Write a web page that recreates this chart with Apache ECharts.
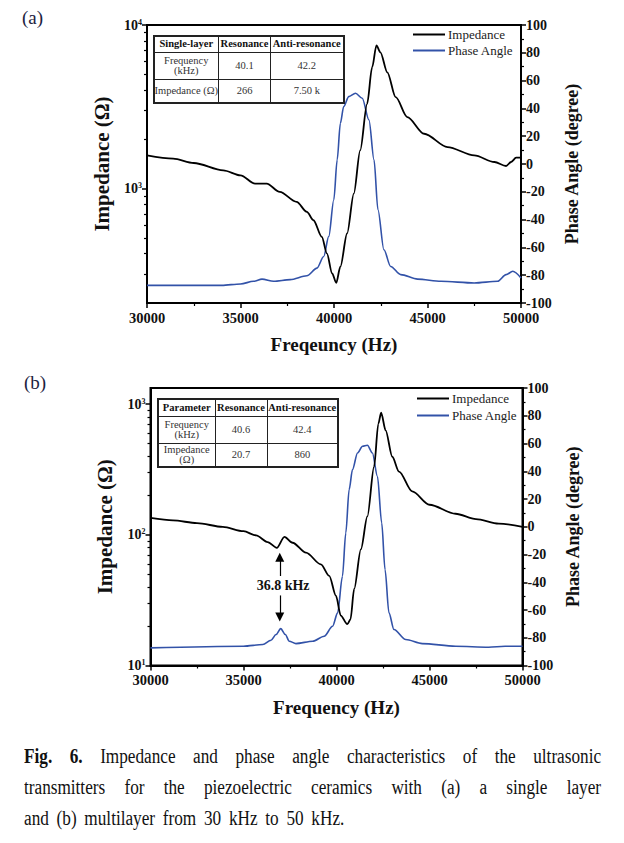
<!DOCTYPE html>
<html><head><meta charset="utf-8">
<script src="https://cdn.jsdelivr.net/npm/echarts@6/dist/echarts.min.js"></script>
<style>
html,body{margin:0;padding:0;background:#fff;}
#chart{position:absolute;left:0;top:0;width:624px;height:843px;}
.lbl{position:absolute;font-family:'Liberation Serif',serif;font-size:19px;color:#1d2340;line-height:20px;}
table.t{position:absolute;border-collapse:collapse;font-family:'Liberation Serif',serif;font-size:10.5px;color:#333;border:2px solid #222;table-layout:fixed;}
table.t td,table.t th{border:1.5px solid #222;text-align:center;padding:0;line-height:10px;}
table.t th{font-weight:bold;color:#111;}
#cap{position:absolute;left:24px;top:741px;width:671px;transform:scaleX(0.86);transform-origin:0 0;font-family:'Liberation Serif',serif;font-size:20px;line-height:31px;color:#111;}
#cap .j{text-align:justify;text-align-last:justify;}
#cap .l3{word-spacing:4px;}
</style></head><body>
<div id="chart"></div>
<div class="lbl" style="left:22px;top:8px;">(a)</div>
<div class="lbl" style="left:24px;top:373px;">(b)</div>
<table class="t" style="left:152.5px;top:34.5px;width:190px;height:67px;">
<colgroup><col style="width:65px"><col style="width:52px"><col style="width:73px"></colgroup>
<tr style="height:17px"><th>Single-layer</th><th>Resonance</th><th>Anti-resonance</th></tr>
<tr style="height:27px"><td>Frequency<br>(kHz)</td><td>40.1</td><td>42.2</td></tr>
<tr style="height:23px"><td>Impedance (&Omega;)</td><td>266</td><td>7.50 k</td></tr>
</table>
<table class="t" style="left:157px;top:398px;width:180px;height:68px;">
<colgroup><col style="width:57px"><col style="width:52px"><col style="width:71px"></colgroup>
<tr style="height:17px"><th>Parameter</th><th>Resonance</th><th>Anti-resonance</th></tr>
<tr style="height:27px"><td>Frequency<br>(kHz)</td><td>40.6</td><td>42.4</td></tr>
<tr style="height:24px"><td>Impedance<br>(&Omega;)</td><td>20.7</td><td>860</td></tr>
</table>
<div id="cap">
<div class="j"><b>Fig. 6.</b> Impedance and phase angle characteristics of the ultrasonic</div>
<div class="j">transmitters for the piezoelectric ceramics with (a) a single layer</div>
<div class="l3">and (b) multilayer from 30 kHz to 50 kHz.</div>
</div>
<script>
// ---- data (a) single layer ----
const freqImpA = [30000, 31400, 32500, 34080, 35000, 35780, 36400, 37100, 38000, 38550, 38900, 39350, 39620, 39900, 40120, 40340, 40700, 41060, 41400, 41770, 42040, 42270, 42480, 42850, 43300, 43920, 44820, 46070, 47500, 48580, 49200, 49470, 49740, 50000];
const impA = [1596, 1524, 1434, 1293, 1206, 1072, 1072, 955, 830, 721, 641, 507, 402, 303, 266, 333, 532, 933, 1714, 3296, 5520, 7500, 6810, 5140, 3620, 2735, 2165, 1795, 1596, 1455, 1375, 1455, 1546, 1546];
const freqPhA = [30000, 34000, 35000, 35700, 36150, 36770, 37660, 38550, 39090, 39450, 39720, 39990, 40170, 40340, 40520, 40790, 41150, 41510, 41870, 42140, 42350, 42670, 43030, 43570, 44470, 45720, 47500, 48750, 49200, 49560, 50000];
const phaseA = [-87.3, -87.3, -86.3, -84.4, -82.8, -84.4, -83.2, -80.4, -74.9, -66.5, -52.1, -25.7, 3.0, 29.3, 41.3, 48.5, 50.9, 47.3, 31.7, 3.0, -32.9, -61.7, -73.7, -79.6, -82.8, -84.4, -85.6, -84.4, -79.6, -77.2, -82.0];
// ---- data (b) multilayer ----
const freqImpB = [30000, 31210, 32500, 33890, 35000, 35680, 36300, 36790, 37200, 37640, 38360, 39160, 39610, 39970, 40230, 40580, 40750, 40950, 41310, 41660, 42020, 42250, 42400, 42640, 43000, 43360, 44070, 45000, 46400, 47500, 48720, 50000];
const impB = [134.6, 129, 123, 115, 106.6, 98.9, 88, 79.6, 96.6, 87, 73, 59.5, 48.6, 34.2, 24.1, 20.7, 22.5, 38.5, 77.4, 138.6, 332, 710, 860, 631, 396, 305, 215, 170, 145, 132, 122, 115];
const freqPhB = [30000, 35000, 36040, 36480, 36750, 37000, 37250, 37460, 37820, 38720, 39340, 39790, 40060, 40320, 40500, 40680, 40860, 41130, 41400, 41660, 41930, 42200, 42430, 42610, 42820, 43090, 43720, 44610, 46400, 48180, 49070, 50000];
const phaseB = [-87.3, -86.1, -84.9, -81.8, -77.7, -73.4, -77.7, -82.5, -84.2, -82.5, -78.9, -71.7, -62.1, -35.7, -4.4, 26.8, 41.2, 53.2, 58.0, 58.7, 53.2, 36.4, 2.8, -30.9, -62.1, -74.1, -81.3, -84.2, -86.1, -86.8, -86.1, -86.1];
// ---- tick values ----
const impMajorA = [1000, 10000];
const impMinorA = [300, 400, 500, 600, 700, 800, 900, 2000, 3000, 4000, 5000, 6000, 7000, 8000, 9000];
const impMajorB = [10, 100, 1000];
const impMinorB = [20, 30, 40, 50, 60, 70, 80, 90, 200, 300, 400, 500, 600, 700, 800, 900];
const seriesNames = ['Impedance', 'Phase Angle'];
const annotFreq = 36950, annotText = '36.8 kHz';

const FONT = "'Liberation Serif','Times New Roman',serif";
const BLUE = '#3252a8';
const pairs = (xs, ys) => xs.map((x, i) => [x, ys[i]]);

function xAx(grid, name, gap) {
  return {
    gridIndex: grid, type: 'value', min: 30000, max: 50000, interval: 5000,
    name: name, nameLocation: 'middle', nameGap: gap,
    nameTextStyle: {fontFamily: FONT, fontWeight: 'bold', fontSize: 19, color: '#111'},
    axisLine: {onZero: false, lineStyle: {color: '#000', width: 2}},
    axisTick: {length: 5, lineStyle: {color: '#000', width: 1.5}},
    minorTick: {show: true, splitNumber: 2, length: 3, lineStyle: {color: '#000', width: 1.2}},
    axisLabel: {fontFamily: FONT, fontWeight: 'bold', fontSize: 14.5, color: '#111', margin: 7, formatter: v => String(v)},
    splitLine: {show: false}, minorSplitLine: {show: false}
  };
}
function logMajor(grid, min, max, majors) {
  return {
    gridIndex: grid, type: 'log', min: min, max: max, position: 'left',
    name: 'Impedance (\u03A9)', nameLocation: 'middle', nameGap: 35,
    nameTextStyle: {fontFamily: FONT, fontWeight: 'bold', fontSize: 21, color: '#111'},
    axisLine: {show: true, onZero: false, lineStyle: {color: '#000', width: 2}},
    axisTick: {show: true, length: 5, customValues: majors, lineStyle: {color: '#000', width: 1.5}},
    axisLabel: {
      customValues: majors, margin: 5,
      formatter: v => '{b|10}{s|' + Math.round(Math.log10(v)) + '}',
      rich: {
        b: {fontFamily: FONT, fontWeight: 'bold', fontSize: 14, color: '#111'},
        s: {fontFamily: FONT, fontWeight: 'bold', fontSize: 8, color: '#111', verticalAlign: 'top'}
      }
    },
    splitLine: {show: false}
  };
}
function logMinor(grid, min, max, minors) {
  return {
    gridIndex: grid, type: 'log', min: min, max: max, position: 'left',
    axisLine: {show: false, onZero: false},
    axisTick: {show: true, length: 3, customValues: minors, lineStyle: {color: '#000', width: 1.2}},
    axisLabel: {show: false}, splitLine: {show: false}
  };
}
function phaseAx(grid, gap) {
  return {
    gridIndex: grid, type: 'value', min: -100, max: 100, interval: 20, position: 'right',
    name: 'Phase Angle (degree)', nameLocation: 'middle', nameGap: gap,
    nameTextStyle: {fontFamily: FONT, fontWeight: 'bold', fontSize: 18, color: '#111'},
    axisLine: {show: true, onZero: false, lineStyle: {color: '#000', width: 2}},
    axisTick: {show: true, length: 5, lineStyle: {color: '#000', width: 1.5}},
    minorTick: {show: true, splitNumber: 2, length: 3, lineStyle: {color: '#000', width: 1.2}},
    axisLabel: {fontFamily: FONT, fontWeight: 'bold', fontSize: 14, color: '#111', margin: 5},
    splitLine: {show: false}
  };
}
function legendAt(left, top, gap) {
  return {
    left: left, top: top, orient: 'vertical', icon: 'rect', itemWidth: 32, itemHeight: 2,
    itemGap: gap, selectedMode: false, padding: 0,
    textStyle: {fontFamily: FONT, fontSize: 13, color: '#222', padding: [0, 0, 0, -2]},
    data: seriesNames
  };
}
const lineBase = {type: 'line', showSymbol: false, smooth: 0.3, smoothMonotone: 'x', animation: false, silent: true};

const chart = echarts.init(document.getElementById('chart'), null, {renderer: 'svg'});
chart.setOption({
  animation: false,
  backgroundColor: '#fff',
  grid: [
    {left: 147, top: 25, width: 374, height: 278, show: true, borderColor: '#000', borderWidth: 2, backgroundColor: 'transparent'},
    {left: 150.5, top: 388, width: 372, height: 277.5, show: true, borderColor: '#000', borderWidth: 2, backgroundColor: 'transparent'}
  ],
  legend: [legendAt(413, 28, 3), legendAt(417, 392, 4)],
  xAxis: [xAx(0, 'Freqeuncy (Hz)', 32), xAx(1, 'Frequency (Hz)', 32)],
  yAxis: [
    logMajor(0, 200, 10000, impMajorA), logMinor(0, 200, 10000, impMinorA), phaseAx(0, 41),
    logMajor(1, 10, 1330, impMajorB), logMinor(1, 10, 1330, impMinorB), phaseAx(1, 40)
  ],
  series: [
    Object.assign({}, lineBase, {name: seriesNames[1], xAxisIndex: 0, yAxisIndex: 2, data: pairs(freqPhA, phaseA),
      lineStyle: {color: BLUE, width: 1.6}, itemStyle: {color: BLUE}}),
    Object.assign({}, lineBase, {name: seriesNames[0], xAxisIndex: 0, yAxisIndex: 0, data: pairs(freqImpA, impA),
      lineStyle: {color: '#000', width: 1.8}, itemStyle: {color: '#000'}}),
    Object.assign({}, lineBase, {name: seriesNames[1], xAxisIndex: 1, yAxisIndex: 5, data: pairs(freqPhB, phaseB),
      lineStyle: {color: BLUE, width: 1.6}, itemStyle: {color: BLUE},
      markLine: {silent: true, animation: false, symbol: ['none', 'triangle'], symbolSize: 9,
        label: {show: false}, lineStyle: {color: '#000', width: 1.2, type: 'solid'},
        emphasis: {disabled: true},
        data: [
          [{coord: [annotFreq, -35.5]}, {coord: [annotFreq, -22]}],
          [{coord: [annotFreq, -49.5]}, {coord: [annotFreq, -65]}]
        ]},
      markPoint: {silent: true, animation: false, symbol: 'circle', symbolSize: 1,
        itemStyle: {color: 'rgba(0,0,0,0)'},
        label: {show: true, position: 'inside', formatter: annotText, fontFamily: FONT, fontWeight: 'bold', fontSize: 14, color: '#111'},
        data: [{coord: [37130, -42.4]}]}
    }),
    Object.assign({}, lineBase, {name: seriesNames[0], xAxisIndex: 1, yAxisIndex: 3, data: pairs(freqImpB, impB),
      lineStyle: {color: '#000', width: 1.8}, itemStyle: {color: '#000'}})
  ]
});
</script>
</body></html>
